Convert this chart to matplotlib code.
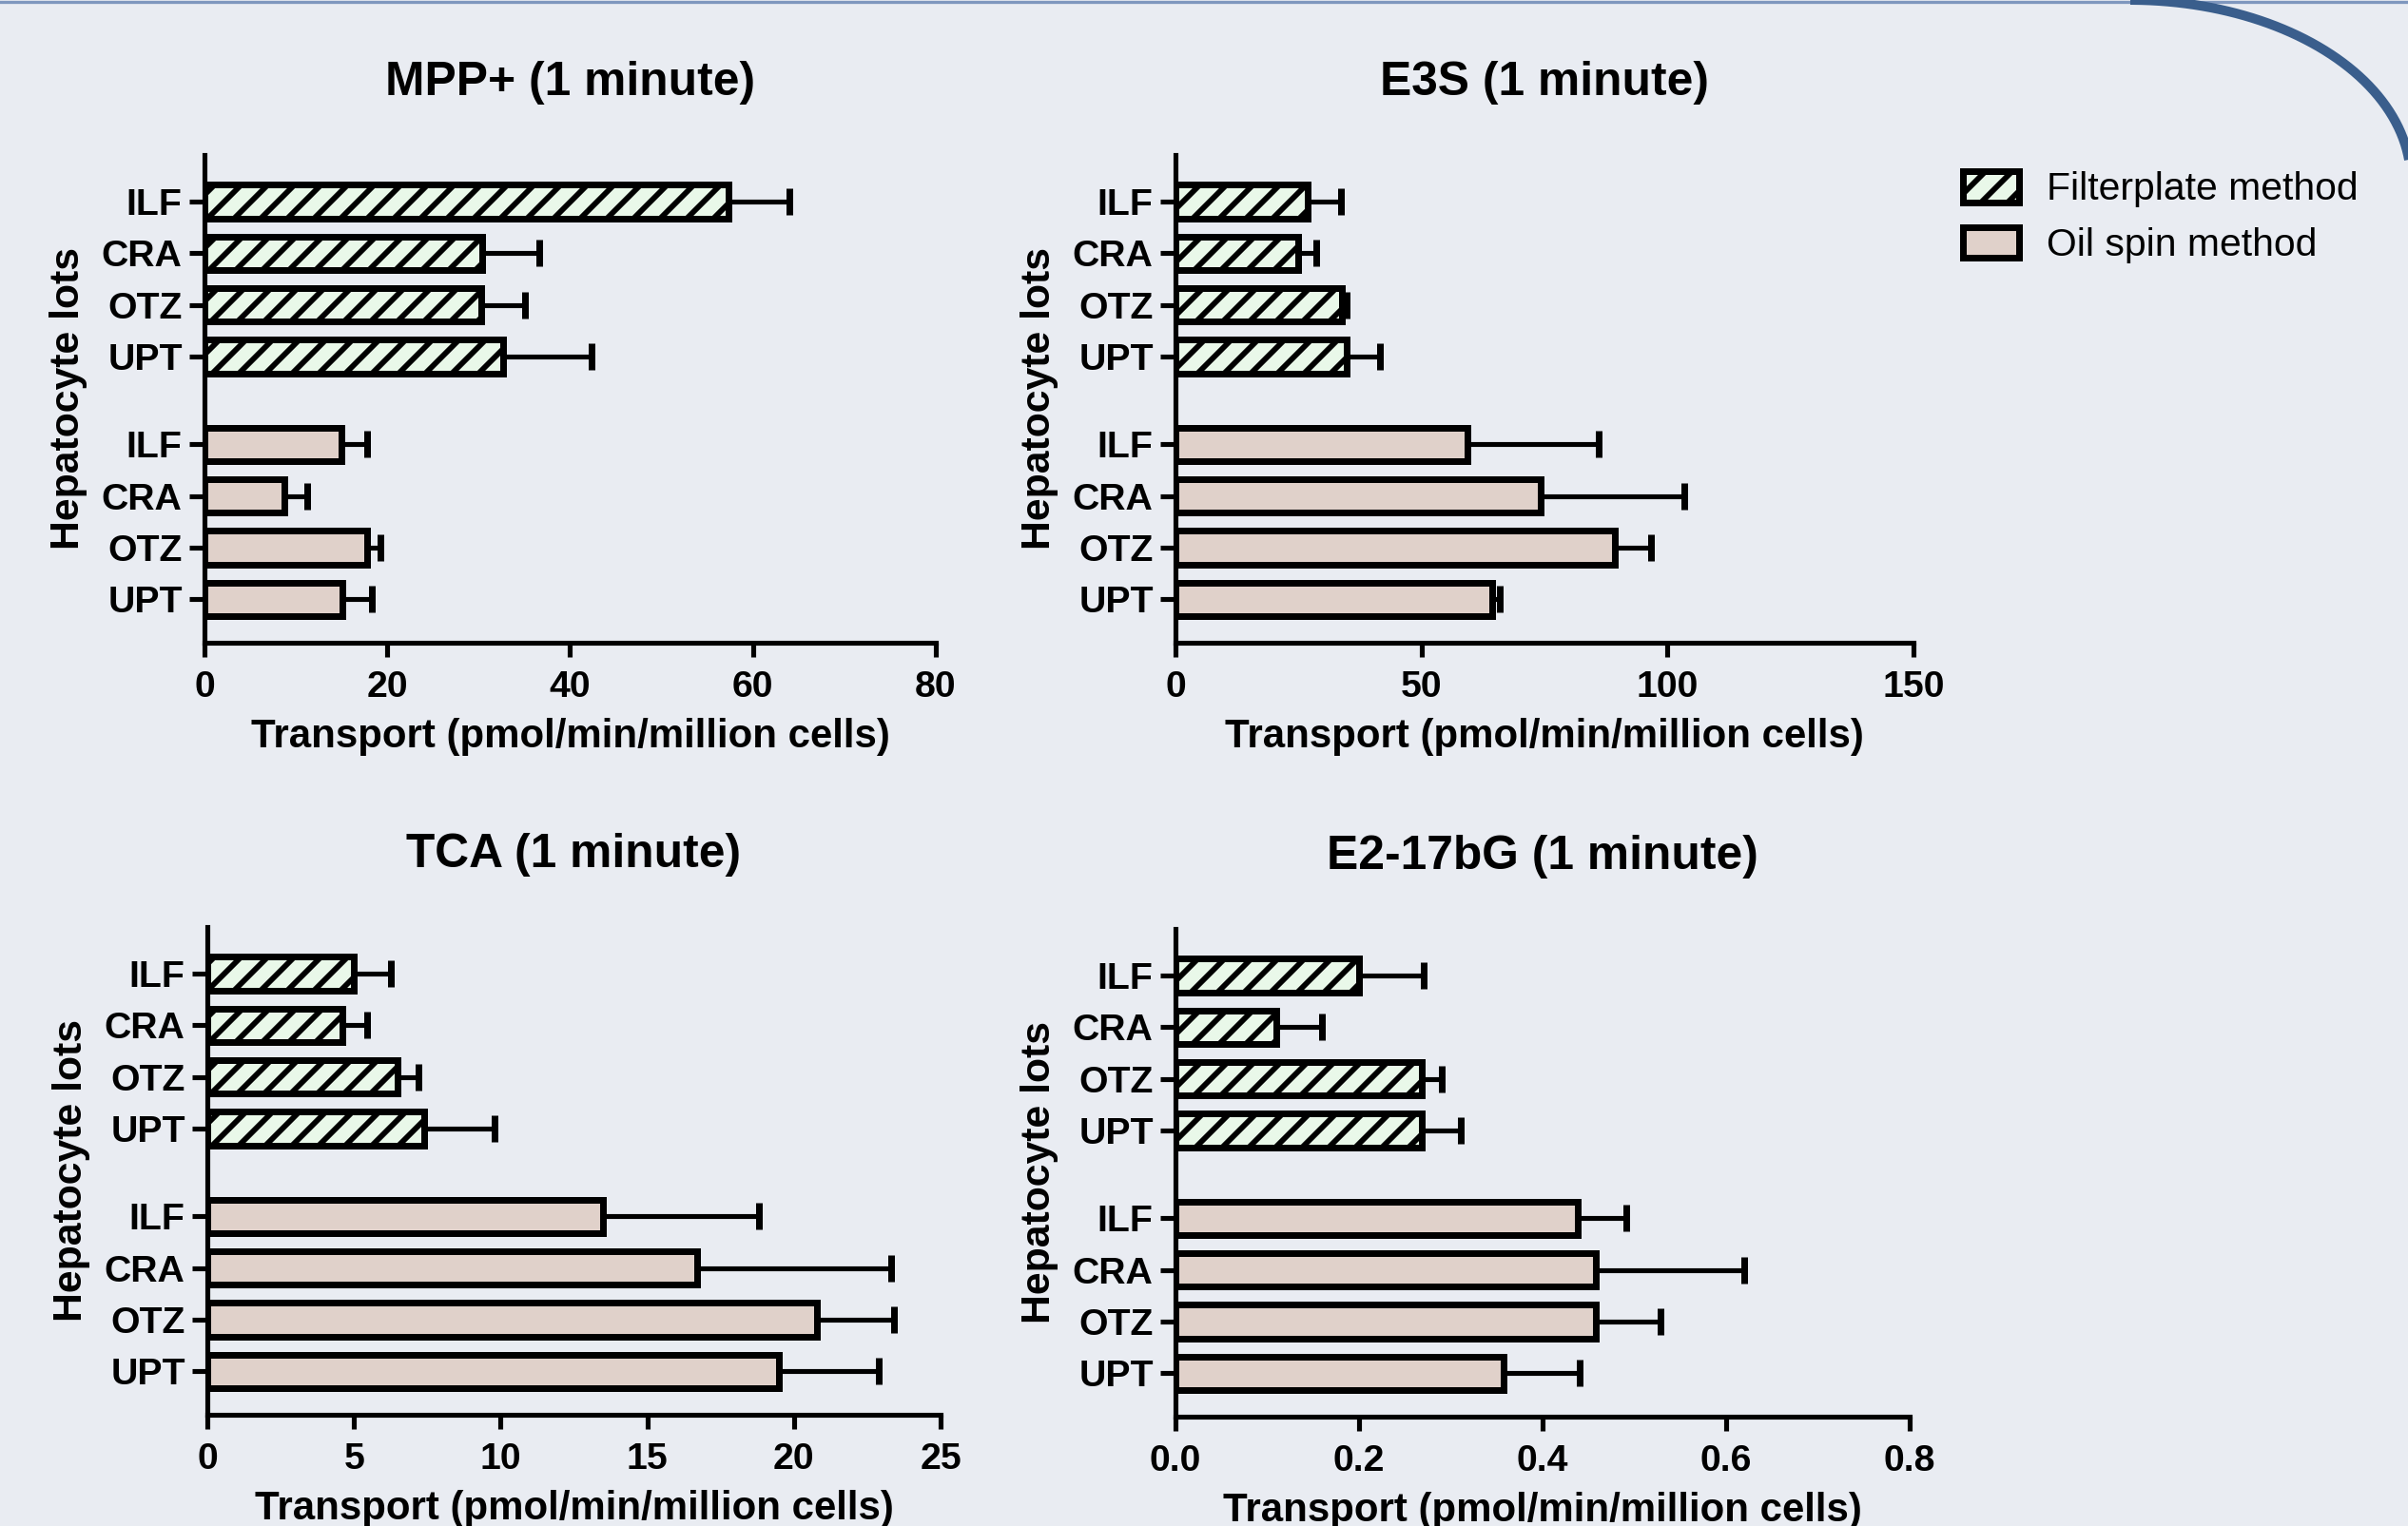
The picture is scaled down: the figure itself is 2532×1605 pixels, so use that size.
import numpy as np
import matplotlib
matplotlib.use("Agg")
import matplotlib.pyplot as plt
from matplotlib.patches import Patch
from matplotlib.lines import Line2D

# ---------------- data ----------------
lots = ["ILF", "CRA", "OTZ", "UPT"]

mpp_filter = [57.3, 30.4, 30.3, 32.7]
mpp_filter_sd = [6.7, 6.2, 4.8, 9.6]
mpp_oil = [15.0, 8.7, 17.8, 15.1]
mpp_oil_sd = [2.8, 2.5, 1.4, 3.2]

e3s_filter = [26.8, 25.0, 33.8, 34.7]
e3s_filter_sd = [6.8, 3.7, 0.9, 6.8]
e3s_oil = [59.3, 74.3, 89.3, 64.3]
e3s_oil_sd = [26.7, 29.1, 7.3, 1.6]

tca_filter = [5.0, 4.6, 6.5, 7.4]
tca_filter_sd = [1.25, 0.85, 0.7, 2.4]
tca_oil = [13.5, 16.7, 20.8, 19.5]
tca_oil_sd = [5.3, 6.6, 2.6, 3.4]

e2_filter = [0.200, 0.110, 0.268, 0.268]
e2_filter_sd = [0.070, 0.050, 0.022, 0.043]
e2_oil = [0.438, 0.458, 0.458, 0.358]
e2_oil_sd = [0.053, 0.162, 0.071, 0.082]

titles = ["MPP+ (1 minute)", "E3S (1 minute)", "TCA (1 minute)", "E2-17bG (1 minute)"]
xticks_list = [[0, 20, 40, 60, 80], [0, 50, 100, 150], [0, 5, 10, 15, 20, 25],
               [0.0, 0.2, 0.4, 0.6, 0.8]]
xtick_fmt = ["{:.0f}", "{:.0f}", "{:.0f}", "{:.1f}"]
xlabel = "Transport (pmol/min/million cells)"
ylabel = "Hepatocyte lots"
legend_labels = ["Filterplate method", "Oil spin method"]

# ---------------- style ----------------
W, H, DPI = 2532, 1605, 168
BG = "#E9ECF2"
GREEN = "#E9F8E9"
PINK = "#E0D1CA"
plt.rcParams["font.family"] = ["Liberation Sans", "DejaVu Sans"]
plt.rcParams["hatch.linewidth"] = 2.5
plt.rcParams["hatch.color"] = "black"

fig = plt.figure(figsize=(W / DPI, H / DPI), dpi=DPI, facecolor=BG)

# axes boxes in pixels: (x0, x1, ytop, ybottom)
boxes = [(215, 984, 163, 676), (1236, 2012, 163, 676),
         (218, 989, 975, 1488), (1236, 2008, 977, 1490)]

panels = [
    (mpp_filter, mpp_filter_sd, mpp_oil, mpp_oil_sd),
    (e3s_filter, e3s_filter_sd, e3s_oil, e3s_oil_sd),
    (tca_filter, tca_filter_sd, tca_oil, tca_oil_sd),
    (e2_filter, e2_filter_sd, e2_oil, e2_oil_sd),
]

y_filter = np.arange(len(lots))
y_oil = np.arange(len(lots)) + 4.7
bar_h = 0.65
EDGE_LW = 3.0
TICK_FS = 16.8

for i, (box, (fv, fsd, ov, osd)) in enumerate(zip(boxes, panels)):
    x0, x1, yt, yb = box
    ax = fig.add_axes([x0 / W, 1 - yb / H, (x1 - x0) / W, (yb - yt) / H])
    ax.set_facecolor("none")
    for yy, vals, sds, col, hatch in [(y_filter, fv, fsd, GREEN, "//"),
                                      (y_oil, ov, osd, PINK, None)]:
        ax.errorbar(vals, yy, xerr=[np.zeros(len(vals)), sds], fmt="none",
                    ecolor="black", elinewidth=2.2, capsize=6, capthick=3.0, zorder=1)
        ax.barh(yy, vals, height=bar_h, color=col, edgecolor="black",
                linewidth=EDGE_LW, hatch=hatch, zorder=2)
    ax.set_ylim(8.54, -0.9)
    xt = xticks_list[i]
    ax.set_xlim(xt[0], xt[-1])
    ax.set_xticks(xt)
    ax.set_xticklabels([xtick_fmt[i].format(v) for v in xt],
                       fontsize=TICK_FS, fontweight="bold")
    ax.set_yticks(np.concatenate([y_filter, y_oil]))
    ax.set_yticklabels(lots + lots, fontsize=TICK_FS, fontweight="bold")
    for s in ["top", "right"]:
        ax.spines[s].set_visible(False)
    for s in ["left", "bottom"]:
        ax.spines[s].set_linewidth(2.2)
    ax.tick_params(axis="y", length=7, width=2.2, pad=3)
    ax.tick_params(axis="x", length=6.5, width=2.2, pad=6)
    ax.set_title(titles[i], fontsize=21.3, fontweight="bold", pad=27)
    ax.set_xlabel(xlabel, fontsize=18, fontweight="bold")
    ax.xaxis.label.set_va("center")
    ax.xaxis.set_label_coords(0.5, -99 / (yb - yt))
    ax.set_ylabel(ylabel, fontsize=18.3, fontweight="bold")
    ax.yaxis.label.set_va("center")
    ax.yaxis.set_label_coords(-143 / (x1 - x0), 0.5)

# legend
handles = [Patch(facecolor=GREEN, edgecolor="black", linewidth=EDGE_LW, hatch="//"),
           Patch(facecolor=PINK, edgecolor="black", linewidth=EDGE_LW)]
fig.legend(handles, legend_labels, loc="upper left",
           bbox_to_anchor=(2064 / W, 1 - 180 / H), frameon=False,
           fontsize=17.5, handlelength=1.45, handleheight=0.85,
           handletextpad=0.7, labelspacing=0.5, borderpad=0, borderaxespad=0)

# decorative frame: top border line and blue curve
fig.add_artist(Line2D([0, 1], [1 - 1.5 / H, 1 - 1.5 / H], transform=fig.transFigure,
                      color="#7F97BE", linewidth=1.4))
t = np.linspace(0, np.pi / 2, 200)
cx, cy, rx, ry = 2240, 190, 295, 190
px = cx + rx * np.cos(t)
py = cy - ry * np.sin(t)
fig.add_artist(Line2D(px / W, 1 - py / H,
                      transform=fig.transFigure, color="#3A5E8C", linewidth=4.3,
                      solid_capstyle="butt"))

fig.savefig("out.png", dpi=DPI, facecolor=BG)
